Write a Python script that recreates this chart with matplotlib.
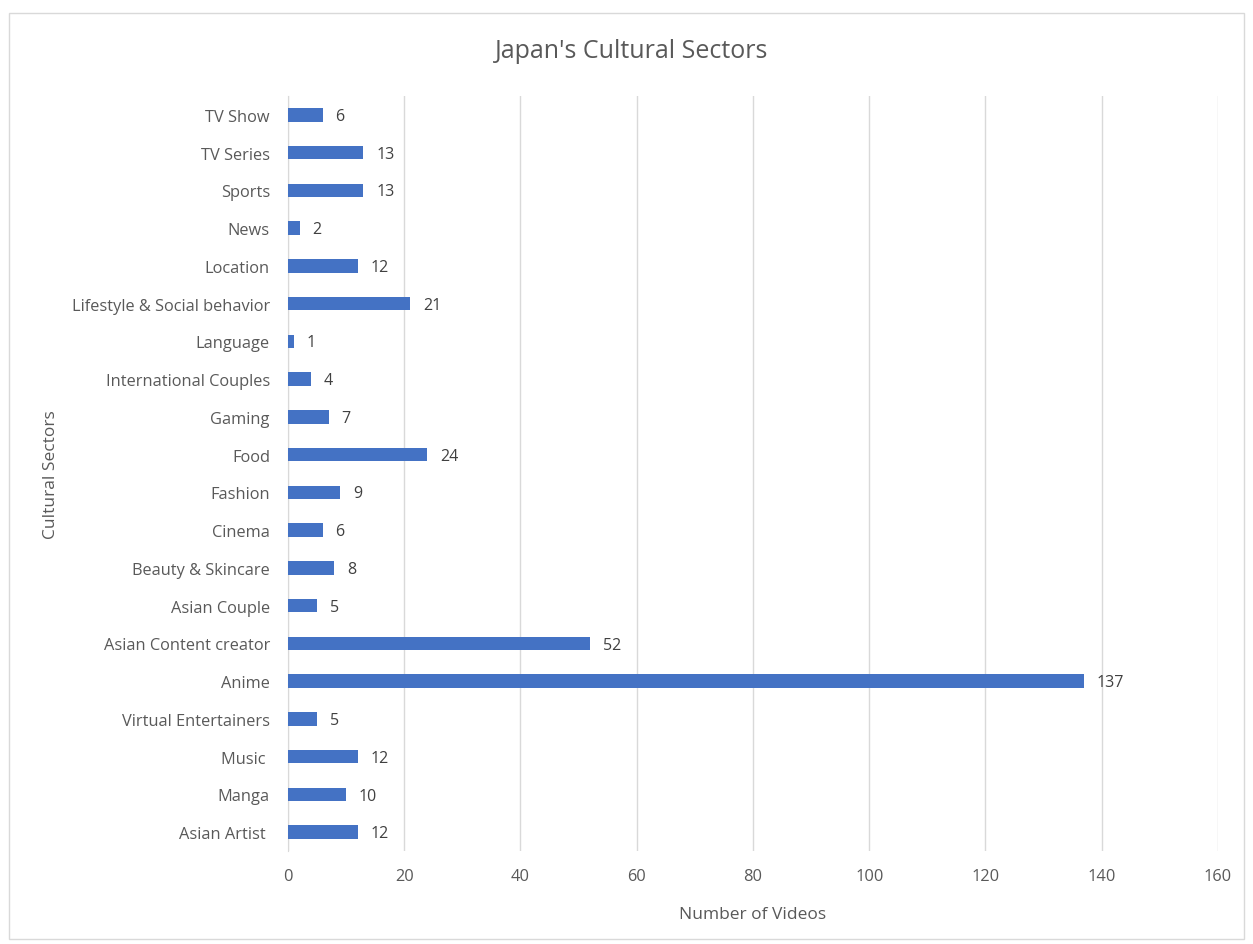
import matplotlib
matplotlib.use("Agg")
import matplotlib.pyplot as plt
from matplotlib.patches import Rectangle

plt.rcParams['font.family'] = ['Open Sans', 'DejaVu Sans']

# categories listed bottom to top
sectors = ["Asian Artist ", "Manga", "Music ", "Virtual Entertainers", "Anime",
           "Asian Content creator", "Asian Couple", "Beauty & Skincare", "Cinema",
           "Fashion", "Food", "Gaming", "International Couples", "Language",
           "Lifestyle & Social behavior", "Location", "News", "Sports",
           "TV Series", "TV Show"]
videos = [12, 10, 12, 5, 137, 52, 5, 8, 6, 9, 24, 7, 4, 1, 21, 12, 2, 13, 13, 6]
xticks = [0, 20, 40, 60, 80, 100, 120, 140, 160]

text_col = "#595959"
bar_col = "#4472C4"

fig = plt.figure(figsize=(12.53, 9.45), dpi=100)
ax = fig.add_axes([0.2298, 0.0984, 0.7422, 0.799])

ypos = list(range(len(sectors)))
ax.barh(ypos, videos, height=0.36, color=bar_col, zorder=3)
for y, v in zip(ypos, videos):
    ax.text(v + 2.2, y - 0.03, str(v), va="center", ha="left", fontsize=11.5, color="#404040")

ax.set_xlim(0, 160)
ax.set_ylim(-0.5, len(sectors) - 0.5)
ax.set_xticks(xticks)
ax.set_yticks(ypos)
ax.set_yticklabels(sectors)
ax.tick_params(axis="both", length=0, labelsize=11.8, colors=text_col)
ax.tick_params(axis="x", pad=12)
ax.tick_params(axis="y", pad=13)
ax.grid(axis="x", color="#D9D9D9", linewidth=1, zorder=0)
for s in ["top", "right", "bottom"]:
    ax.spines[s].set_visible(False)
ax.spines["left"].set_color("#D9D9D9")

ax.set_xlabel("Number of Videos", fontsize=12.5, color=text_col, labelpad=16)
ax.set_ylabel("Cultural Sectors", fontsize=12.5, color=text_col)
ax.yaxis.set_label_coords(-0.246, 0.5)
fig.text(0.504, 0.945, "Japan's Cultural Sectors", ha="center", va="center",
         fontsize=18, color=text_col)

fig.patches.append(Rectangle((0.007, 0.005), 0.986, 0.98, transform=fig.transFigure,
                             fill=False, edgecolor="#D9D9D9", linewidth=1))

fig.savefig("out.png", dpi=100)
